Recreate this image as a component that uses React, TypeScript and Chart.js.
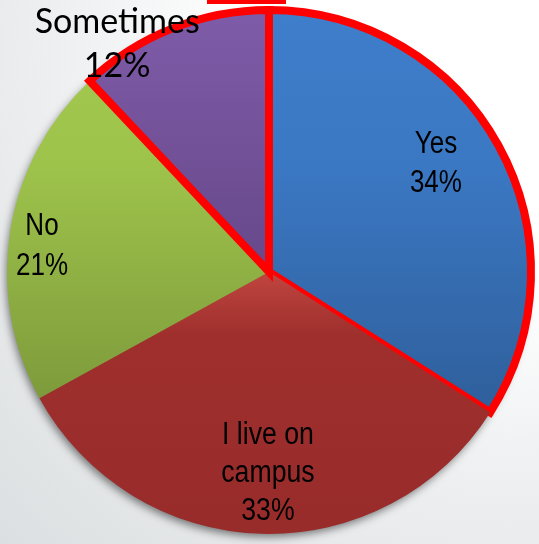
import React, { useEffect, useRef } from "react";
import { Chart, registerables } from "chart.js";

Chart.register(...registerables);

const categoryLines: string[][] = [["Yes"], ["I live on", "campus"], ["No"], ["Sometimes"]];
const categories: string[] = ["Yes", "I live on campus", "No", "Sometimes"];
const values: number[] = [34, 33, 21, 12];
const highlighted: boolean[] = [true, false, false, true];

// Label styling (not data)
const labelRadius = [0.765, 0.76, 0.873, 1.05];
const labelAngleShiftDeg = [-4.8, -1.5, -2, -11.9];
const labelFonts = [
  { family: '"Liberation Sans", Arial, sans-serif', size: 31, lh: 39, sx: 0.84 },
  { family: '"Liberation Sans", Arial, sans-serif', size: 31, lh: 38, sx: 0.86 },
  { family: '"Liberation Sans", Arial, sans-serif', size: 31, lh: 40, sx: 0.84 },
  { family: 'Lato, "Open Sans", sans-serif', size: 34, lh: 44, sx: 1 },
];
const gradientStops: [number, string][][] = [
  [[0, "#3F7ECB"], [0.3, "#3B78C3"], [0.8, "#2E5D98"], [1, "#2D5B95"]],
  [[0, "#C4463F"], [0.5, "#C0453F"], [0.62, "#9E2F2D"], [1, "#982C2B"]],
  [[0, "#A5CA50"], [0.3, "#9EC34B"], [0.75, "#7D9A3B"], [1, "#7A973A"]],
  [[0, "#7F5CA9"], [0.5, "#67488A"], [1, "#62448A"]],
];

const shadowPlugin = {
  id: "pieShadow",
  beforeDatasetsDraw(chart: any) {
    const meta = chart.getDatasetMeta(0);
    const arc = meta.data[0];
    if (!arc) return;
    const { x, y, outerRadius } = arc.getProps(["x", "y", "outerRadius"], true);
    const ctx = chart.ctx;
    ctx.save();
    ctx.shadowColor = "rgba(0,0,0,0.5)";
    ctx.shadowBlur = 9;
    ctx.shadowOffsetX = -2;
    ctx.shadowOffsetY = 4;
    ctx.fillStyle = "#9A2C2C";
    ctx.beginPath();
    ctx.arc(x, y, outerRadius - 1, 0, Math.PI * 2);
    ctx.fill();
    ctx.restore();
  },
};

const labelPlugin = {
  id: "sliceLabels",
  afterDatasetsDraw(chart: any) {
    const meta = chart.getDatasetMeta(0);
    const ctx = chart.ctx;
    const total = values.reduce((a, b) => a + b, 0);
    meta.data.forEach((el: any, i: number) => {
      const { x, y, startAngle, endAngle, outerRadius } = el.getProps(
        ["x", "y", "startAngle", "endAngle", "outerRadius"],
        true
      );
      const mid = (startAngle + endAngle) / 2 + (labelAngleShiftDeg[i] * Math.PI) / 180;
      const r = outerRadius * labelRadius[i];
      const cx = x + Math.cos(mid) * r;
      const cy = y + Math.sin(mid) * r;
      const lines = [...categoryLines[i], Math.round((values[i] / total) * 100) + "%"];
      const f = labelFonts[i];
      ctx.save();
      ctx.fillStyle = "#000";
      ctx.font = `${f.size}px ${f.family}`;
      ctx.textAlign = "center";
      ctx.textBaseline = "alphabetic";
      const n = lines.length;
      lines.forEach((t, k) => {
        const lineCenter = cy + (k - (n - 1) / 2) * f.lh;
        ctx.save();
        ctx.translate(cx, lineCenter + f.size * 0.36);
        ctx.scale(f.sx, 1);
        ctx.fillText(t, 0, 0);
        ctx.restore();
      });
      ctx.restore();
    });
  },
};

export default function App() {
  const ref = useRef<HTMLCanvasElement>(null);
  useEffect(() => {
    if (!ref.current) return;
    const chart = new Chart(ref.current, {
      type: "pie",
      data: {
        labels: categories,
        datasets: [
          {
            data: values,
            backgroundColor: (c: any) => {
              const i = c.dataIndex;
              const area = c.chart.chartArea;
              if (!area) return gradientStops[i][0][1];
              const g = c.chart.ctx.createLinearGradient(0, area.top, 0, area.bottom);
              gradientStops[i].forEach(([p, col]) => g.addColorStop(p, col));
              return g;
            },
            borderColor: highlighted.map((h) => (h ? "#FF0000" : "rgba(0,0,0,0)")),
            borderWidth: highlighted.map((h) => (h ? 8 : 0)),
            hoverBorderWidth: highlighted.map((h) => (h ? 8 : 0)),
            borderJoinStyle: "miter",
            borderAlign: "center",
          } as any,
        ],
      },
      options: {
        responsive: false,
        devicePixelRatio: 1,
        animation: false,
        events: [],
        layout: { padding: { left: 3, right: 4, top: 6, bottom: 6 } },
        plugins: { legend: { display: false }, tooltip: { enabled: false } },
      },
      plugins: [shadowPlugin, labelPlugin],
    });
    return () => chart.destroy();
  }, []);
  return (
    <div
      style={{
        position: "fixed",
        left: 0,
        top: 0,
        width: 539,
        height: 544,
        background:
          "radial-gradient(circle at 95% 5%, #ffffff 0%, #ffffff 35%, #eceeef 65%, #dcdfe1 100%)",
      }}
    >
      <canvas ref={ref} width={539} height={544} style={{ display: "block" }} />
      <div
        style={{ position: "absolute", left: 207, top: 0, width: 79, height: 4, background: "#FF0000" }}
      />
    </div>
  );
}
